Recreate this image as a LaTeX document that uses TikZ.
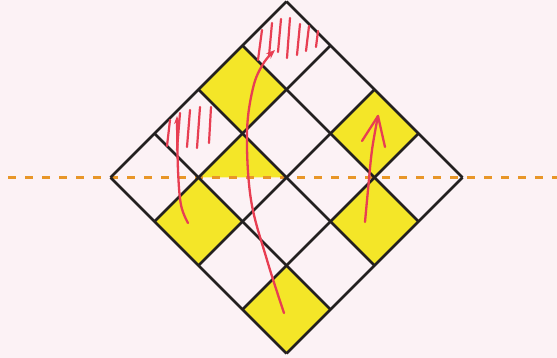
\documentclass[tikz,border=0pt]{standalone}
\usetikzlibrary{arrows.meta}
\definecolor{bgpink}{RGB}{252,242,245}
\definecolor{cellyellow}{RGB}{244,230,40}
\definecolor{pen}{RGB}{232,62,82}
\definecolor{dashorange}{RGB}{232,150,40}
\definecolor{gridline}{RGB}{35,32,32}
\tikzset{
  gridstroke/.style={draw=gridline, line width=2.7pt, line join=miter},
  yellowcell/.style={fill=cellyellow},
  penstroke/.style={draw=pen, line width=2.3pt, line cap=round, line join=round},
  hatchstroke/.style={draw=pen, line width=2.2pt, line cap=round},
  axisline/.style={draw=dashorange, line width=2.6pt, dash pattern=on 8pt off 9pt},
}
\begin{document}
\begin{tikzpicture}[x=1pt,y=-1pt]
\useasboundingbox[fill=bgpink] (0,0) rectangle (557,358);
% grid points g-u-v
\foreach \u in {0,...,4}{
  \foreach \v in {0,...,4}{
    \coordinate (g-\u-\v) at ({286.5+(\v-\u)*44},{1.5+(\u+\v)*44});
  }
}
% yellow cells
\foreach \a/\b in {1/0,3/1,3/3,0/2,1/3}{
  \pgfmathtruncatemacro{\ap}{\a+1}
  \pgfmathtruncatemacro{\bp}{\b+1}
  \fill[yellowcell] (g-\a-\b) -- (g-\ap-\b) -- (g-\ap-\bp) -- (g-\a-\bp) -- cycle;
}
% half-coloured cell
\fill[yellowcell] (g-2-1) -- (g-3-1) -- (g-2-2) -- cycle;
% dashed axis
\coordinate (axL) at (8,177.5);
\coordinate (axR) at (557,177.5);
\draw[axisline] (axL) -- (axR);
% grid lines
\foreach \k in {0,...,4}{
  \draw[gridstroke] (g-\k-0) -- (g-\k-4);
  \draw[gridstroke] (g-0-\k) -- (g-4-\k);
}
% hatching, top cell
\foreach \xa/\ya/\xb/\yb in {262/30/258/60, 272/23/269/56, 281/19/278/52, 290/18/287/58, 300/24/297/55, 309/26/306/51, 318/31/316/47}{
  \draw[hatchstroke] (\xa,\ya) -- (\xb,\yb);
}
% hatching, left cell
\foreach \xa/\ya/\xb/\yb in {170/120/167/146, 180/113/177/150, 190/110/187/147, 200/107/197/148, 211/107/209/143}{
  \draw[hatchstroke] (\xa,\ya) -- (\xb,\yb);
}
% long arrow
\draw[penstroke, -{Stealth[length=9pt,width=7pt]}] plot[smooth, tension=0.6] coordinates {(284,313) (267,260) (251,200) (247,133) (253,88) (263,64) (275,50)};
% left arrow
\draw[penstroke, -{Stealth[length=8pt,width=6pt]}] plot[smooth, tension=0.6] coordinates {(188,223) (181,205) (178,170) (177,116)};
% right arrow
\coordinate (rtip) at (378,116);
\draw[penstroke] plot[smooth, tension=0.6] coordinates {(365,222) (368,190) (372,150) (378,116)};
\draw[penstroke] (362,141) -- (rtip) -- (385,147);
\end{tikzpicture}
\end{document}
